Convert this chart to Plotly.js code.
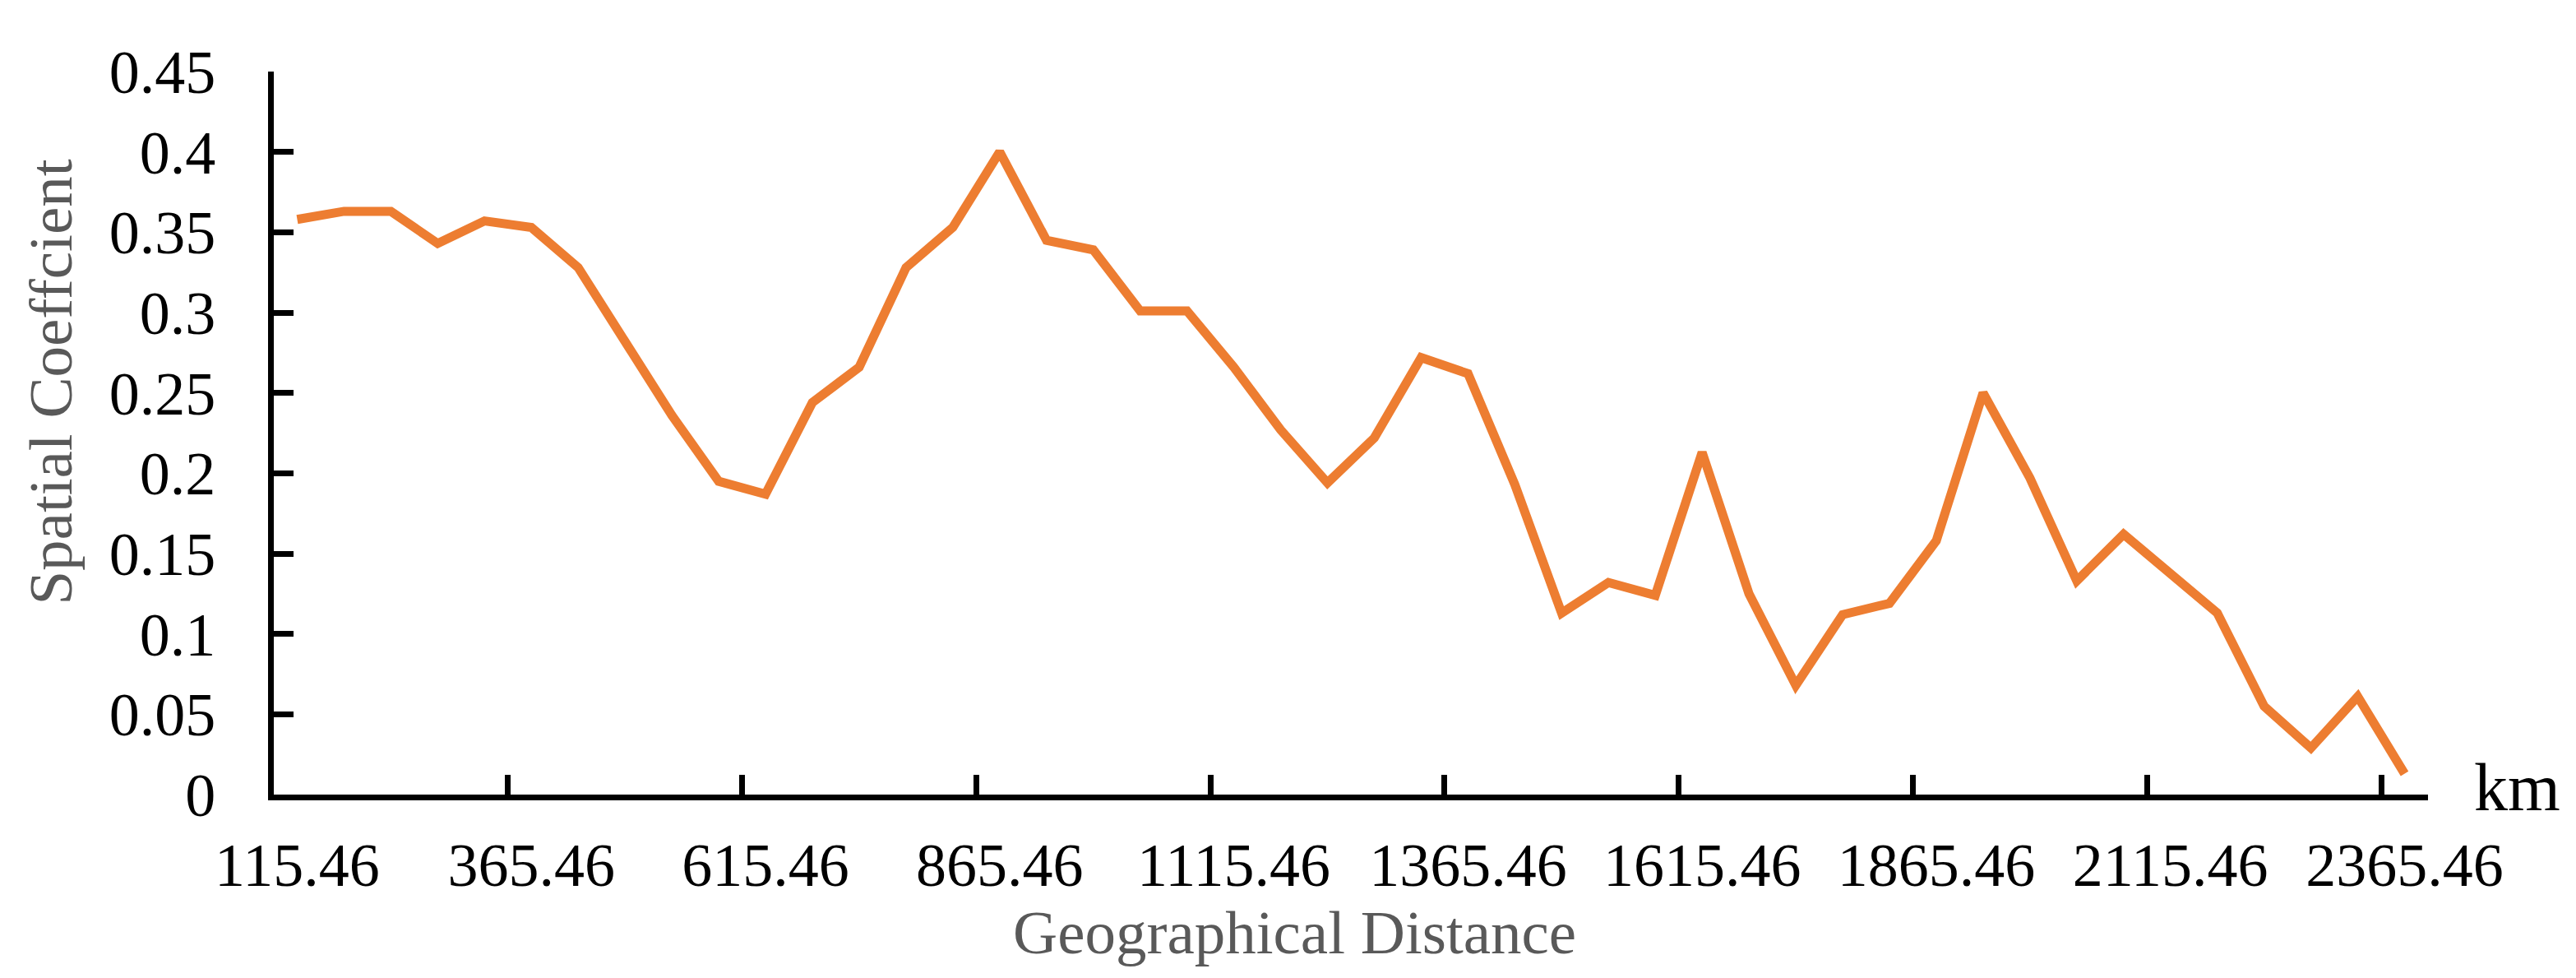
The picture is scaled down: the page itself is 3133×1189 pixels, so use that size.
<!DOCTYPE html>
<html>
<head>
<meta charset="utf-8">
<script src="https://cdn.plot.ly/plotly-3.0.1.min.js"></script>
<style>html,body{margin:0;padding:0;background:#fff;}</style>
</head>
<body>
<div id="chart" style="width:3133px;height:1189px;"></div>
<script>
const distances = ['115.46','165.46','215.46','265.46','315.46','365.46','415.46','465.46','515.46','565.46',
  '615.46','665.46','715.46','765.46','815.46','865.46','915.46','965.46','1015.46','1065.46',
  '1115.46','1165.46','1215.46','1265.46','1315.46','1365.46','1415.46','1465.46','1515.46','1565.46',
  '1615.46','1665.46','1715.46','1765.46','1815.46','1865.46','1915.46','1965.46','2015.46','2065.46',
  '2115.46','2165.46','2215.46','2265.46','2315.46','2365.46'];
const coefficients = [0.358,0.363,0.363,0.343,0.357,0.353,0.328,0.282,0.236,0.195,
  0.187,0.244,0.266,0.328,0.353,0.400,0.345,0.339,0.301,0.301,
  0.266,0.227,0.194,0.222,0.272,0.262,0.193,0.113,0.132,0.124,
  0.213,0.125,0.068,0.112,0.119,0.158,0.250,0.197,0.133,0.162,
  0.138,0.113,0.055,0.029,0.061,0.013];
const tickLabels = ['115.46','365.46','615.46','865.46','1115.46','1365.46','1615.46','1865.46','2115.46','2365.46'];
const yTicks = [0,0.05,0.1,0.15,0.2,0.25,0.3,0.35,0.4,0.45];
const xTitle = 'Geographical Distance';
const yTitle = 'Spatial Coeffcient';
const unitLabel = 'km';

const serif = 'Liberation Serif, Times New Roman, serif';
const boundaryTicks = tickLabels.slice(1).map(l => distances.indexOf(l) - 0.5);

const traces = [
  {x: distances, y: coefficients, type: 'scatter', mode: 'lines',
   line: {color: '#ED7D31', width: 11}, hoverinfo: 'skip', showlegend: false},
  {x: [], y: [], xaxis: 'x2', type: 'scatter', mode: 'lines', showlegend: false, hoverinfo: 'skip'}
];

const layout = {
  width: 3133, height: 1189, autosize: false,
  paper_bgcolor: '#ffffff', plot_bgcolor: '#ffffff',
  margin: {l: 333, r: 180, t: 87, b: 223, pad: 0},
  showlegend: false,
  xaxis: {
    type: 'category', categoryorder: 'array', categoryarray: distances,
    range: [-0.5, distances.length - 0.5],
    tickmode: 'array', tickvals: tickLabels, ticktext: tickLabels,
    ticks: '', showgrid: false, zeroline: false,
    showline: true, linecolor: '#000', linewidth: 7,
    tickfont: {family: serif, size: 74, color: '#000'},
    ticklabelstandoff: 15
  },
  xaxis2: {
    overlaying: 'x', anchor: 'y', side: 'bottom',
    range: [-0.5, distances.length - 0.5],
    tickmode: 'array', tickvals: boundaryTicks,
    ticks: 'inside', ticklen: 24, tickwidth: 7, tickcolor: '#000',
    showticklabels: false, showgrid: false, zeroline: false, showline: false
  },
  yaxis: {
    range: [0, 0.45], tickmode: 'array', tickvals: yTicks,
    ticks: 'inside', ticklen: 24, tickwidth: 7, tickcolor: '#000',
    showline: true, linecolor: '#000', linewidth: 7,
    showgrid: false, zeroline: false,
    tickfont: {family: serif, size: 74, color: '#000'},
    ticklabelstandoff: 49
  },
  annotations: [
    {text: yTitle, xref: 'paper', yref: 'paper', x: -0.1035, y: 0.5702,
     xanchor: 'center', yanchor: 'middle', textangle: -90, showarrow: false,
     font: {family: serif, size: 75, color: '#595959'}},
    {text: xTitle, xref: 'paper', yref: 'paper', x: 0.4738, y: -0.19,
     xanchor: 'center', yanchor: 'middle', showarrow: false,
     font: {family: serif, size: 75, color: '#595959'}},
    {text: unitLabel, xref: 'paper', yref: 'paper', x: 1.0205, y: 0.0097,
     xanchor: 'left', yanchor: 'middle', showarrow: false,
     font: {family: serif, size: 82, color: '#000'}}
  ]
};

Plotly.newPlot('chart', traces, layout, {staticPlot: true, displayModeBar: false});
</script>
</body>
</html>
